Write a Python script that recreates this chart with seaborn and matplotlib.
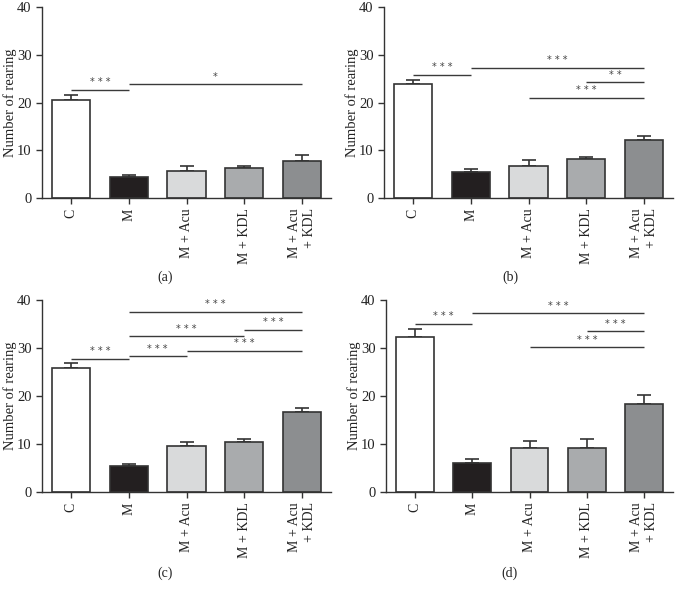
import matplotlib
matplotlib.use("Agg")
import matplotlib.pyplot as plt
import seaborn as sns
import pandas as pd

categories = ["C", "M", "M + Acu", "M + KDL", "M + Acu\n+ KDL"]
bar_colors = ["#ffffff", "#231f20", "#d9dadb", "#a9abad", "#8c8e90"]

means_a = [20.6, 4.4, 5.6, 6.2, 7.8]
errs_a = [1.0, 0.5, 1.2, 0.5, 1.3]
means_b = [23.8, 5.5, 6.8, 8.2, 12.2]
errs_b = [1.0, 0.6, 1.1, 0.4, 0.8]
means_c = [25.9, 5.4, 9.6, 10.5, 16.6]
errs_c = [1.0, 0.5, 0.8, 0.5, 0.8]
means_d = [32.3, 6.1, 9.2, 9.2, 18.4]
errs_d = [1.7, 0.8, 1.4, 1.9, 1.8]

# significance brackets: (from index, to index, height, label)
sig_a = [(0, 1, 22.7, "***"), (1, 4, 23.8, "*")]
sig_b = [(0, 1, 25.8, "***"), (1, 4, 27.3, "***"), (3, 4, 24.3, "**"), (2, 4, 21.0, "***")]
sig_c = [(0, 1, 27.8, "***"), (1, 2, 28.3, "***"), (1, 3, 32.4, "***"),
         (2, 4, 29.4, "***"), (3, 4, 33.8, "***"), (1, 4, 37.6, "***")]
sig_d = [(0, 1, 35.1, "***"), (1, 4, 37.2, "***"), (3, 4, 33.5, "***"), (2, 4, 30.2, "***")]

panel_labels = ["(a)", "(b)", "(c)", "(d)"]
yticks = [0, 10, 20, 30, 40]

sns.set_theme(style="ticks")
plt.rcParams["font.family"] = ["Liberation Serif", "DejaVu Serif"]

W, H = 677, 589
fig = plt.figure(figsize=(W / 100, H / 100), dpi=100)

rects = [(42, 331, 7, 198), (384, 673, 7, 198), (42, 331, 300, 492), (386, 673, 300, 492)]
ylabel_x = [10, 352, 10, 354]
label_pos = [(165, 277), (510, 277), (165, 573), (510, 573)]
panels = [(means_a, errs_a, sig_a), (means_b, errs_b, sig_b),
          (means_c, errs_c, sig_c), (means_d, errs_d, sig_d)]

edge = "#333333"
for (l, r, t, b), (means, errs, sigs), lab, (lx, ly), yx in zip(rects, panels, panel_labels, label_pos, ylabel_x):
    ax = fig.add_axes([l / W, (H - b) / H, (r - l) / W, (b - t) / H])
    df = pd.DataFrame({"group": categories, "value": means})
    sns.barplot(data=df, x="group", y="value", hue="group", palette=bar_colors,
                order=categories, hue_order=categories, legend=False,
                errorbar=None, width=0.66, edgecolor=edge, linewidth=1.2, ax=ax,
                saturation=1)
    ax.errorbar(range(len(categories)), means, yerr=[[0] * len(errs), errs],
                fmt="none", ecolor=edge, elinewidth=1.2, capsize=5, capthick=1.2, zorder=0.5)
    for i, j, h, txt in sigs:
        ax.plot([i, j], [h, h], color="#3a3a3a", lw=1.0, solid_capstyle="butt", clip_on=False)
        ax.text((i + j) / 2, h + 0.5, " ".join(txt), ha="center", va="bottom", fontsize=7,
                color="#444444", family="DejaVu Sans")
    ax.set_xlim(-0.5, 4.5)
    ax.set_ylim(0, 40)
    ax.set_yticks(yticks)
    ax.set_xlabel("")
    ax.set_ylabel("Number of rearing", fontsize=10.5, color="#222222")
    ax.yaxis.label.set_va("center")
    ax.yaxis.set_label_coords((yx - l) / (r - l), 0.5)
    ax.set_xticks(range(len(categories)))
    ax.set_xticklabels(categories, rotation=90, fontsize=10, ha="center", va="top",
                       multialignment="right")
    ax.tick_params(axis="both", direction="out", length=4, width=1, colors=edge,
                   labelcolor="#222222")
    ax.tick_params(axis="y", labelsize=10.5)
    sns.despine(ax=ax)
    for s in ["left", "bottom"]:
        ax.spines[s].set_color(edge)
        ax.spines[s].set_linewidth(1.0)
    fig.text(lx / W, 1 - ly / H, lab, ha="center", va="center", fontsize=10, color="#222222")

fig.savefig("out.png", dpi=100)
